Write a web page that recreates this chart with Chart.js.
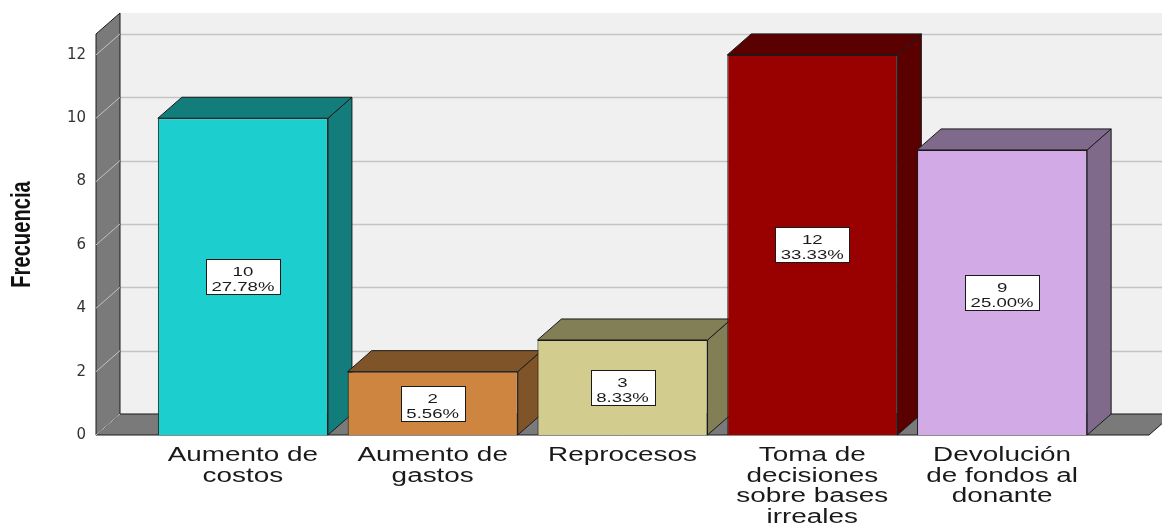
<!DOCTYPE html>
<html>
<head>
<meta charset="utf-8">
<script src="https://cdn.jsdelivr.net/npm/chart.js@4/dist/chart.umd.min.js"></script>
<style>
  html, body { margin: 0; padding: 0; background: #fff; }
  #wrap { width: 1162px; height: 523px; }
</style>
</head>
<body>
<div id="wrap"><canvas id="grafico"></canvas></div>
<script>
// --- DATOS ---
const categorias = [
    ['Aumento de', 'costos'],
    ['Aumento de', 'gastos'],
    ['Reprocesos'],
    ['Toma de', 'decisiones', 'sobre bases', 'irreales'],
    ['Devolución', 'de fondos al', 'donante']
];
const frecuencias = [10, 2, 3, 12, 9];
const porcentajes = ['27.78%', '5.56%', '8.33%', '33.33%', '25.00%'];
const ticksY = [0, 2, 4, 6, 8, 10, 12];
const tituloY = 'Frecuencia';

// colores (frente / lados)
const coloresFrente = ['#1CCECE', '#CD853F', '#D2CC8F', '#990000', '#D2AAE6'];
const coloresLado = ['#127D7A', '#7F5428', '#827E56', '#5A0000', '#7F6A8C'];

const DX = 24, DY = 21;      // profundidad 3D
const PAD = 52;              // distancia de la pared al primer bar
const SX = 1.43;             // estirado horizontal del texto
const LINEA = '#1a1a1a';

function textoEstirado(ctx, txt, x, y, sx) {
    ctx.save();
    ctx.translate(x, y);
    ctx.scale(sx, 1);
    ctx.fillText(txt, 0, 0);
    ctx.restore();
}

function poligono(ctx, pts, fill, stroke) {
    ctx.beginPath();
    ctx.moveTo(pts[0][0], pts[0][1]);
    for (let i = 1; i < pts.length; i++) ctx.lineTo(pts[i][0], pts[i][1]);
    ctx.closePath();
    if (fill) { ctx.fillStyle = fill; ctx.fill(); }
    if (stroke) { ctx.strokeStyle = stroke; ctx.lineWidth = 1; ctx.stroke(); }
}

const caja3d = {
    id: 'caja3d',
    beforeDatasetsDraw(chart) {
        const { ctx, chartArea: a, scales: { y } } = chart;
        const wl = a.left - PAD, fr = a.right + PAD;
        const top = a.top, bot = a.bottom;
        ctx.save();
        // pared del fondo
        ctx.fillStyle = '#F0F0F0';
        ctx.fillRect(wl + DX, top - DY, fr - wl, bot - top);
        ctx.strokeStyle = '#C4C4C4';
        ctx.lineWidth = 1.5;
        ticksY.forEach(v => {
            const yy = Math.round(y.getPixelForValue(v) - DY) + 0.5;
            ctx.beginPath(); ctx.moveTo(wl + DX, yy); ctx.lineTo(fr + DX, yy); ctx.stroke();
        });
        // piso
        poligono(ctx, [[wl, bot], [wl + DX, bot - DY], [fr + DX, bot - DY], [fr, bot]], '#7A7A7A', LINEA);
        // pared izquierda
        poligono(ctx, [[wl, top], [wl + DX, top - DY], [wl + DX, bot - DY], [wl, bot]], '#7A7A7A', LINEA);
        ctx.strokeStyle = '#C2C2C2';
        ctx.lineWidth = 1;
        ticksY.forEach(v => {
            const yy = y.getPixelForValue(v);
            ctx.beginPath(); ctx.moveTo(wl, yy); ctx.lineTo(wl + DX, yy - DY); ctx.stroke();
        });
        // caras superior y lateral de las barras
        const meta = chart.getDatasetMeta(0);
        meta.data.forEach((bar, i) => {
            const x1 = bar.x - bar.width / 2, x2 = bar.x + bar.width / 2;
            const yt = bar.y, yb = bar.base;
            poligono(ctx, [[x2, yt], [x2 + DX, yt - DY], [x2 + DX, yb - DY], [x2, yb]], coloresLado[i], LINEA);
            poligono(ctx, [[x1, yt], [x1 + DX, yt - DY], [x2 + DX, yt - DY], [x2, yt]], coloresLado[i], LINEA);
        });
        ctx.restore();
    },
    afterDatasetsDraw(chart) {
        const { ctx, chartArea: a, scales: { x } } = chart;
        const meta = chart.getDatasetMeta(0);
        ctx.save();
        ctx.fillStyle = LINEA;
        // etiquetas de valores
        ctx.font = '13px "Liberation Sans", Arial, sans-serif';
        ctx.textAlign = 'center';
        ctx.textBaseline = 'alphabetic';
        meta.data.forEach((bar, i) => {
            const l1 = String(frecuencias[i]), l2 = porcentajes[i];
            const w = Math.max(ctx.measureText(l1).width, ctx.measureText(l2).width) * SX + 11;
            const h = 35;
            const cy = (bar.y + bar.base) / 2;
            const bx = Math.round(bar.x - w / 2) + 0.5, by = Math.round(cy - h / 2) + 0.5;
            ctx.fillStyle = '#fff';
            ctx.fillRect(bx, by, Math.round(w), h);
            ctx.strokeStyle = LINEA; ctx.lineWidth = 1;
            ctx.strokeRect(bx, by, Math.round(w), h);
            ctx.fillStyle = LINEA;
            textoEstirado(ctx, l1, bar.x, by + 16.5, SX);
            textoEstirado(ctx, l2, bar.x, by + 31, SX);
        });
        // etiquetas del eje X
        ctx.font = '19.5px "Liberation Sans", Arial, sans-serif';
        categorias.forEach((lineas, i) => {
            const cx = x.getPixelForValue(i);
            lineas.forEach((t, j) => textoEstirado(ctx, t, cx, a.bottom + 26 + j * 20.5, SX));
        });
        // título del eje Y (condensado)
        ctx.translate(21, (a.top + a.bottom) / 2);
        ctx.rotate(-Math.PI / 2);
        ctx.scale(0.72, 1);
        ctx.font = 'bold 28px "Liberation Sans", Arial, sans-serif';
        ctx.textBaseline = 'middle';
        ctx.fillStyle = '#111';
        ctx.fillText(tituloY, 0, 1);
        ctx.restore();
    }
};

new Chart(document.getElementById('grafico'), {
    type: 'bar',
    data: {
        labels: categorias,
        datasets: [{
            data: frecuencias,
            backgroundColor: coloresFrente,
            borderColor: LINEA,
            borderWidth: 1,
            barPercentage: 0.896,
            categoryPercentage: 1
        }]
    },
    options: {
        responsive: true,
        maintainAspectRatio: false,
        animation: false,
        layout: { padding: { top: 34, right: 65, bottom: 0, left: 0 } },
        plugins: { legend: { display: false }, tooltip: { enabled: false } },
        scales: {
            x: {
                grid: { display: false, drawTicks: false },
                border: { display: false },
                ticks: { display: false },
                afterFit(s) { s.height = 88; }
            },
            y: {
                min: 0,
                max: 12.66,
                afterBuildTicks(s) { s.ticks = ticksY.map(v => ({ value: v })); },
                grid: { display: false, drawTicks: false },
                border: { display: false },
                ticks: { padding: 62, color: '#333', font: { family: '"DejaVu Sans", sans-serif', size: 15 } },
                afterFit(s) { s.width = 148; s.paddingTop = 0; s.paddingBottom = 0; }
            }
        }
    },
    plugins: [caja3d]
});
</script>
</body>
</html>
